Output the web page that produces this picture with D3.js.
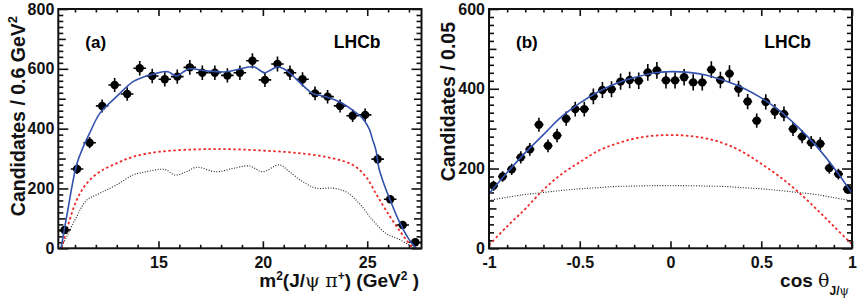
<!DOCTYPE html>
<html>
<head>
<meta charset="utf-8">
<script src="https://cdn.jsdelivr.net/npm/d3@7"></script>
<style>
  body { margin: 0; background: #fff; }
  svg { display: block; font-family: "Liberation Sans", Arial, sans-serif; font-weight: bold; }
</style>
</head>
<body>
<div class="canvas"></div>
<script>
// panel (a): m^2(J/psi pi+) distribution, bins of 0.6 GeV^2
const massBins = [10.5, 11.1, 11.7, 12.3, 12.9, 13.5, 14.1, 14.7, 15.3, 15.9, 16.5, 17.1, 17.7, 18.3, 18.9,
  19.5, 20.1, 20.7, 21.3, 21.9, 22.5, 23.1, 23.7, 24.3, 24.9, 25.5, 26.1, 26.7, 27.3];
const massCounts = [61, 265, 353, 476, 546, 516, 602, 576, 565, 574, 605, 587, 587, 578, 587,
  627, 563, 616, 587, 565, 518, 507, 476, 443, 446, 298, 164, 78, 20];

const massTotalX = [10.33, 10.6, 11.08, 11.4, 11.7, 12.19, 12.99, 13.78, 14.26, 14.8, 15.22, 15.46, 15.86, 16.2,
  16.49, 17.29, 18.25, 18.8, 19.3, 19.6, 20.08, 20.4, 20.71, 21.0, 21.27, 21.91, 22.38, 23.02, 23.66, 24.3,
  24.77, 25.09, 25.25, 25.41, 25.57, 25.8, 26.05, 26.53, 27.0, 27.35];
const massTotalY = [0, 106, 280, 340, 385, 451, 507, 557, 572, 583, 590, 590, 576, 590,
  600, 593, 590, 598, 606, 606, 587, 597, 607, 600, 587, 545, 518, 507, 490, 462,
  435, 400, 365, 330, 265, 215, 170, 90, 30, 0];

const massRedX = [10.36, 10.6, 11.08, 11.56, 12.19, 12.99, 13.78, 15.06, 16.97, 18.56, 20.16, 21.75, 23.34,
  24.3, 24.93, 25.41, 25.89, 26.53, 27.16, 27.33];
const massRedY = [0, 61, 161, 217, 256, 284, 306, 323, 331, 331, 326, 318, 301,
  279, 240, 184, 128, 61, 5, 0];

const massBlackX = [10.33, 10.6, 11.08, 11.56, 12.19, 12.99, 13.78, 14.42, 15.06, 15.38, 15.78, 16.34, 16.81,
  17.77, 18.56, 19.36, 19.99, 20.79, 21.27, 21.91, 22.55, 23.34, 23.98, 24.62, 25.25, 25.89, 26.53, 27.0, 27.35];
const massBlackY = [0, 39, 106, 161, 184, 212, 245, 256, 264, 262, 245, 256, 271,
  256, 267, 275, 256, 279, 256, 223, 201, 201, 189, 150, 95, 50, 30, 11, 0];

// panel (b): cos(theta_J/psi) distribution, bins of 0.05
const cosBins = [-0.975, -0.925, -0.875, -0.825, -0.775, -0.725, -0.675, -0.625, -0.575, -0.525,
  -0.475, -0.425, -0.375, -0.325, -0.275, -0.225, -0.175, -0.125, -0.075, -0.025,
  0.025, 0.075, 0.125, 0.175, 0.225, 0.275, 0.325, 0.375, 0.425, 0.475,
  0.525, 0.575, 0.625, 0.675, 0.725, 0.775, 0.825, 0.875, 0.925, 0.975];
const cosCounts = [157, 180, 198, 228, 248, 310, 257, 283, 325, 349,
  349, 381, 397, 399, 418, 422, 420, 441, 446, 421,
  421, 429, 416, 416, 448, 422, 438, 400, 368, 320,
  367, 343, 337, 299, 280, 265, 262, 201, 186, 148];

const cosCurveX = [-1, -0.9, -0.8, -0.7, -0.6, -0.5, -0.4, -0.3, -0.2, -0.1, 0,
  0.1, 0.2, 0.3, 0.4, 0.5, 0.6, 0.7, 0.8, 0.9, 1];
const cosTotalY = [137, 190, 240, 285, 330, 364, 392, 413, 428, 439, 443,
  441, 434, 420, 402, 377, 345, 305, 258, 202, 138];
const cosRedY = [8, 55, 99, 147, 186, 216, 244, 262, 275, 282, 284,
  282, 275, 262, 241, 212, 180, 143, 100, 55, 10];
const cosBlackY = [120, 128, 135, 140, 145, 149, 152, 155, 156, 157, 157,
  157, 156, 155, 152, 149, 145, 140, 135, 127, 119];

const dimensions = { width: 858, height: 301, top: 9, bottom: 248.3 };

const svg = d3
  .select(".canvas")
  .append("svg")
  .attr("width", dimensions.width)
  .attr("height", dimensions.height);

const zip = (xs, ys) => xs.map((x, i) => [x, ys[i]]);

const drawPanel = (cfg) => {
  const x = d3.scaleLinear().domain(cfg.xDomain).range([cfg.left, cfg.right]);
  const y = d3.scaleLinear().domain(cfg.yDomain).range([dimensions.bottom, dimensions.top]);

  const g = svg.append("g");

  // ticks, ROOT style: inside, on all four sides
  const addAxis = (axis, transform, labels) => {
    const a = g.append("g").attr("transform", transform).call(axis);
    a.select(".domain").remove();
    a.selectAll("line").attr("stroke", "#111").attr("stroke-width", 1.6);
    if (labels) {
      a.selectAll("text")
        .attr("font-size", 16)
        .attr("font-family", "Liberation Sans, Arial, sans-serif")
        .attr("font-weight", "bold")
        .attr("fill", "#111");
    } else {
      a.selectAll("text").remove();
    }
  };

  const bottom = `translate(0,${dimensions.bottom})`;
  const top = `translate(0,${dimensions.top})`;
  const left = `translate(${cfg.left},0)`;
  const right = `translate(${cfg.right},0)`;

  addAxis(d3.axisBottom(x).tickValues(cfg.xMinor).tickSize(-3.5), bottom, false);
  addAxis(d3.axisTop(x).tickValues(cfg.xMinor).tickSize(-3.5), top, false);
  addAxis(d3.axisBottom(x).tickValues(cfg.xMajor).tickSize(-7).tickPadding(8).tickFormat(cfg.xFormat), bottom, true);
  addAxis(d3.axisTop(x).tickValues(cfg.xMajor).tickSize(-7), top, false);

  addAxis(d3.axisLeft(y).tickValues(cfg.yMinor).tickSize(-5), left, false);
  addAxis(d3.axisRight(y).tickValues(cfg.yMinor).tickSize(-5), right, false);
  addAxis(d3.axisLeft(y).tickValues(cfg.yMid).tickSize(-7.5), left, false);
  addAxis(d3.axisRight(y).tickValues(cfg.yMid).tickSize(-7.5), right, false);
  addAxis(d3.axisLeft(y).tickValues(cfg.yMajor).tickSize(-10).tickPadding(4).tickFormat(d3.format("d")), left, true);
  addAxis(d3.axisRight(y).tickValues(cfg.yMajor).tickSize(-10), right, false);

  const clipId = `clip-${cfg.name}`;
  svg
    .append("clipPath")
    .attr("id", clipId)
    .append("rect")
    .attr("x", cfg.left)
    .attr("y", dimensions.top)
    .attr("width", cfg.right - cfg.left)
    .attr("height", dimensions.bottom - dimensions.top);

  const plot = g.append("g").attr("clip-path", `url(#${clipId})`);

  const line = d3
    .line()
    .x((d) => x(d[0]))
    .y((d) => y(d[1]))
    .curve(d3.curveCatmullRom.alpha(0.5));

  // black dotted component
  plot
    .append("path")
    .attr("d", line(cfg.black))
    .attr("fill", "none")
    .attr("stroke", "#222")
    .attr("stroke-width", 1.1)
    .attr("stroke-dasharray", "1,1.6");

  // red dashed component
  plot
    .append("path")
    .attr("d", line(cfg.red))
    .attr("fill", "none")
    .attr("stroke", "#ee2a2a")
    .attr("stroke-width", 1.8)
    .attr("stroke-dasharray", "2.5,2.5");

  // data points with error bars
  const halfBin = cfg.binWidth / 2;
  const points = plot
    .selectAll("g.pt")
    .data(zip(cfg.bins, cfg.counts))
    .enter()
    .append("g")
    .attr("class", "pt");

  points
    .append("line")
    .attr("x1", (d) => x(d[0]))
    .attr("x2", (d) => x(d[0]))
    .attr("y1", (d) => y(d[1] - Math.sqrt(d[1])))
    .attr("y2", (d) => y(d[1] + Math.sqrt(d[1])))
    .attr("stroke", "#000")
    .attr("stroke-width", 1.6);

  points
    .append("line")
    .attr("x1", (d) => x(d[0] - halfBin))
    .attr("x2", (d) => x(d[0] + halfBin))
    .attr("y1", (d) => y(d[1]))
    .attr("y2", (d) => y(d[1]))
    .attr("stroke", "#000")
    .attr("stroke-width", 1.6);

  points
    .append("circle")
    .attr("cx", (d) => x(d[0]))
    .attr("cy", (d) => y(d[1]))
    .attr("r", 4.2)
    .attr("fill", "#000");

  // total fit
  plot
    .append("path")
    .attr("d", line(cfg.total))
    .attr("fill", "none")
    .attr("stroke", "#3352ad")
    .attr("stroke-width", 1.6);

  // frame
  g.append("rect")
    .attr("x", cfg.left)
    .attr("y", dimensions.top)
    .attr("width", cfg.right - cfg.left)
    .attr("height", dimensions.bottom - dimensions.top)
    .attr("fill", "none")
    .attr("stroke", "#111")
    .attr("stroke-width", 2);

  g.append("text")
    .attr("x", cfg.left + 27)
    .attr("y", 48)
    .attr("font-size", 17)
    .text(cfg.tag);

  g.append("text")
    .attr("x", cfg.right - 41)
    .attr("y", 48)
    .attr("text-anchor", "end")
    .attr("font-size", 17.5)
    .text("LHCb");

  return g;
};

const panelA = drawPanel({
  name: "a",
  left: 58.3,
  right: 421.5,
  xDomain: [10.2, 27.6],
  yDomain: [0, 800],
  xMajor: [15, 20, 25],
  xMinor: [11, 12, 13, 14, 16, 17, 18, 19, 21, 22, 23, 24, 26, 27],
  xFormat: d3.format("d"),
  yMajor: [0, 200, 400, 600, 800],
  yMid: [100, 300, 500, 700],
  yMinor: d3.range(0, 800, 20).filter((v) => v % 100 !== 0),
  bins: massBins,
  counts: massCounts,
  binWidth: 0.6,
  total: zip(massTotalX, massTotalY),
  red: zip(massRedX, massRedY),
  black: zip(massBlackX, massBlackY),
  tag: "(a)",
});

const panelB = drawPanel({
  name: "b",
  left: 489,
  right: 852,
  xDomain: [-1, 1],
  yDomain: [0, 600],
  xMajor: [-1, -0.5, 0, 0.5, 1],
  xMinor: d3.range(-0.9, 1, 0.1).filter((v) => Math.abs(v * 2 - Math.round(v * 2)) > 0.01),
  xFormat: (d) => String(d).replace("-", "-"),
  yMajor: [0, 200, 400, 600],
  yMid: [100, 300, 500],
  yMinor: d3.range(0, 600, 20).filter((v) => v % 100 !== 0),
  bins: cosBins,
  counts: cosCounts,
  binWidth: 0.05,
  total: zip(cosCurveX, cosTotalY),
  red: zip(cosCurveX, cosRedY),
  black: zip(cosCurveX, cosBlackY),
  tag: "(b)",
});

// axis titles
const yTitle = (xPos, yPos, parts) => {
  const t = svg
    .append("text")
    .attr("transform", `translate(${xPos},${yPos}) rotate(-90)`)
    .attr("text-anchor", "end")
    .attr("font-size", 19.5)
    .attr("fill", "#111");
  parts.forEach((p) => {
    t.append("tspan")
      .attr("dy", p.dy || 0)
      .attr("font-size", p.size || null)
      .text(p.text);
  });
};

yTitle(25, 16, [
  { text: "Candidates / 0.6 GeV" },
  { text: "2", dy: -8, size: 13 },
]);
yTitle(455, 22, [{ text: "Candidates / 0.05" }]);

const xTitleA = svg
  .append("text")
  .attr("x", 419)
  .attr("y", 287)
  .attr("text-anchor", "end")
  .attr("font-size", 19)
  .attr("fill", "#111");

[
  { text: "m" },
  { text: "2", dy: -7, size: 12 },
  { text: "(J/", dy: 7 },
  { text: "\u03c8", serif: true },
  { text: " " },
  { text: "\u03c0", serif: true },
  { text: "+", dy: -7, size: 12 },
  { text: ") (GeV", dy: 7 },
  { text: "2", dy: -7, size: 12 },
  { text: " )", dy: 7 },
].forEach((p) => {
  xTitleA
    .append("tspan")
    .attr("dy", p.dy || 0)
    .attr("font-size", p.size || null)
    .attr("font-family", p.serif ? "DejaVu Serif, serif" : null)
    .attr("font-weight", p.serif ? "normal" : null)
    .text(p.text);
});

const xTitleB = svg
  .append("text")
  .attr("x", 849)
  .attr("y", 287)
  .attr("text-anchor", "end")
  .attr("font-size", 19)
  .attr("fill", "#111");

[
  { text: "cos " },
  { text: "\u03b8", serif: true },
  { text: "J/", dy: 8, size: 12 },
  { text: "\u03c8", size: 12, serif: true },
].forEach((p) => {
  xTitleB
    .append("tspan")
    .attr("dy", p.dy || 0)
    .attr("font-size", p.size || null)
    .attr("font-family", p.serif ? "DejaVu Serif, serif" : null)
    .attr("font-weight", p.serif ? "normal" : null)
    .text(p.text);
});
</script>
</body>
</html>
